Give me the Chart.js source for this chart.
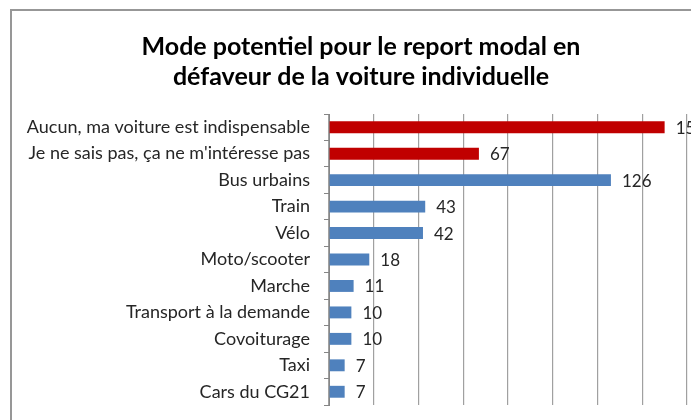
<!DOCTYPE html>
<html>
<head>
<meta charset="utf-8">
<script src="https://cdn.jsdelivr.net/npm/chart.js@4/dist/chart.umd.min.js"></script>
<style>
  body { margin: 0; background: #fff; overflow: hidden; width: 691px; height: 420px; position: relative; }
  #frame { position: absolute; left: 10px; top: 9px; width: 698px; height: 438px; border: 2px solid #979797; background: #fff; }
</style>
</head>
<body>
<div id="frame"><canvas id="chart"></canvas></div>
<script>
// Catégories (de haut en bas)
const categories = [
  'Aucun, ma voiture est indispensable',
  "Je ne sais pas, ça ne m'intéresse pas",
  'Bus urbains',
  'Train',
  'Vélo',
  'Moto/scooter',
  'Marche',
  'Transport à la demande',
  'Covoiturage',
  'Taxi',
  'Cars du CG21'
];

// Nombre de réponses
const values = [150, 67, 126, 43, 42, 18, 11, 10, 10, 7, 7];

// Couleur : rouge pour les deux premières réponses, bleu pour les modes
const barColors = ['#C00000', '#C00000', '#4F81BD', '#4F81BD', '#4F81BD', '#4F81BD',
  '#4F81BD', '#4F81BD', '#4F81BD', '#4F81BD', '#4F81BD'];

const titleLines = ['Mode potentiel pour le report modal en', 'défaveur de la voiture individuelle'];

// Étiquettes de valeur au bout des barres
const valueLabels = {
  id: 'valueLabels',
  afterDatasetsDraw(chart) {
    const ctx = chart.ctx;
    const meta = chart.getDatasetMeta(0);
    ctx.save();
    ctx.font = '17px Lato';
    ctx.fillStyle = '#262626';
    ctx.textAlign = 'left';
    ctx.textBaseline = 'middle';
    meta.data.forEach((bar, i) => {
      ctx.fillText(String(values[i]), bar.x + 11, bar.y + 1);
    });
    ctx.restore();
  }
};

new Chart(document.getElementById('chart'), {
  type: 'bar',
  data: {
    labels: categories,
    datasets: [{
      data: values,
      backgroundColor: barColors,
      borderWidth: 0,
      barPercentage: 0.45,
      categoryPercentage: 1
    }]
  },
  options: {
    indexAxis: 'y',
    responsive: true,
    maintainAspectRatio: false,
    animation: false,
    layout: { padding: { left: 0, right: 0, top: 0, bottom: 44 } },
    plugins: {
      legend: { display: false },
      tooltip: { enabled: false },
      title: {
        display: true,
        text: titleLines,
        color: '#000',
        font: { family: 'Lato', size: 25, weight: 'bold', lineHeight: 1.2 },
        padding: { top: 21, bottom: 22 }
      }
    },
    scales: {
      x: {
        min: 0,
        max: 160,
        ticks: { display: false, stepSize: 20 },
        grid: { color: '#a0a0a0', lineWidth: 1.2, drawTicks: false },
        border: { display: false },
        afterFit(scale) { scale.height = 0; }
      },
      y: {
        ticks: { color: '#262626', font: { family: 'Lato', size: 18 }, padding: 14 },
        grid: { drawOnChartArea: false, drawTicks: true, tickLength: 5, color: '#868686', offset: true },
        border: { color: '#868686', width: 1 },
        afterFit(scale) { scale.width = 317; }
      },
      // axe vide à droite : laisse la place des étiquettes sans décaler le titre
      yRight: {
        type: 'category',
        position: 'right',
        ticks: { display: false },
        grid: { display: false },
        border: { display: false },
        afterFit(scale) { scale.width = 23; }
      }
    }
  },
  plugins: [valueLabels]
});
</script>
</body>
</html>
